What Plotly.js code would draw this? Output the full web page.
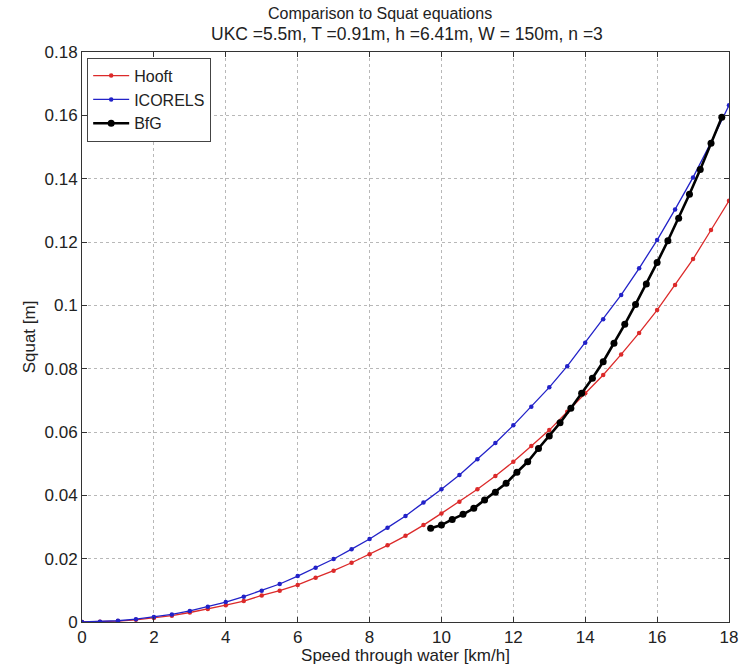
<!DOCTYPE html>
<html>
<head>
<meta charset="utf-8">
<script src="https://cdn.plot.ly/plotly-3.0.1.min.js"></script>
<style>html,body{margin:0;padding:0;background:#fff;}#chart{width:747px;height:665px;}</style>
</head>
<body>
<div id="chart"></div>
<script>
// Speeds (km/h) for Hooft and ICORELS
const speedA = [0,0.5,1,1.5,2,2.5,3,3.5,4,4.5,5,5.5,6,6.5,7,7.5,8,8.5,9,9.5,10,10.5,11,11.5,12,12.5,13,13.5,14,14.5,15,15.5,16,16.5,17,17.5,18];
const hooft = [0,0.0001,0.0003,0.0007,0.0013,0.002,0.003,0.0041,0.0053,0.0066,0.0084,0.0099,0.0117,0.014,0.0162,0.0187,0.0214,0.0242,0.0272,0.0306,0.0343,0.038,0.0419,0.0461,0.0506,0.0556,0.0606,0.0664,0.0722,0.078,0.0845,0.0913,0.0985,0.1064,0.1146,0.1238,0.133];
const icorels = [0,0.0001,0.0004,0.0009,0.0016,0.0024,0.0035,0.0048,0.0063,0.008,0.0099,0.012,0.0145,0.0171,0.0199,0.023,0.0262,0.0298,0.0335,0.0377,0.0419,0.0464,0.0514,0.0565,0.0621,0.068,0.0741,0.0808,0.0882,0.0956,0.1033,0.1117,0.1206,0.1303,0.1404,0.1515,0.1632];
// BfG
const speedB = [9.7,10.0,10.3,10.6,10.9,11.2,11.5,11.8,12.1,12.4,12.7,13.0,13.3,13.6,13.9,14.2,14.5,14.8,15.1,15.4,15.7,16.0,16.3,16.6,16.9,17.2,17.5,17.8];
const bfg = [0.0296,0.0306,0.0324,0.034,0.0359,0.0385,0.041,0.0438,0.0473,0.0506,0.0548,0.0587,0.0629,0.0675,0.0722,0.077,0.0822,0.088,0.094,0.1003,0.1067,0.1135,0.1204,0.1275,0.1351,0.1429,0.1512,0.1594];

const xTickVals = [0,2,4,6,8,10,12,14,16,18];
const xTickText = ['0','2','4','6','8','10','12','14','16','18'];
const yTickVals = [0,0.02,0.04,0.06,0.08,0.1,0.12,0.14,0.16,0.18];
const yTickText = ['0','0.02','0.04','0.06','0.08','0.1','0.12','0.14','0.16','0.18'];

const titleLine1 = 'Comparison to Squat equations';
const titleLine2 = 'UKC =5.5m, T =0.91m, h =6.41m, W = 150m, n =3';

const font = 'Liberation Sans, Arial, sans-serif';

const traces = [
  {x: speedA, y: hooft, name: 'Hooft', type: 'scatter', mode: 'lines+markers',
   line: {color: '#dc2a2a', width: 1.3}, marker: {color: '#dc2a2a', size: 4.5}},
  {x: speedA, y: icorels, name: 'ICORELS', type: 'scatter', mode: 'lines+markers',
   line: {color: '#2222c8', width: 1.3}, marker: {color: '#2222c8', size: 4.5}},
  {x: speedB, y: bfg, name: 'BfG', type: 'scatter', mode: 'lines+markers',
   line: {color: '#000000', width: 2.6}, marker: {color: '#000000', size: 7}}
];

const axisCommon = {
  showline: true, linecolor: '#333', linewidth: 1, mirror: 'ticks',
  ticks: 'inside', ticklen: 5, tickcolor: '#333',
  showgrid: true, gridcolor: '#b8b8b8', gridwidth: 1, griddash: 'dot',
  zeroline: false, tickfont: {family: font, size: 17, color: '#222'}
};

const layout = {
  width: 747, height: 665,
  margin: {l: 82, r: 18, t: 52, b: 43},
  paper_bgcolor: '#fff', plot_bgcolor: '#fff',
  font: {family: font, color: '#222'},
  showlegend: true,
  legend: {x: 0.008, y: 0.99, xanchor: 'left', yanchor: 'top',
    bgcolor: '#fff', bordercolor: '#444', borderwidth: 1,
    font: {family: font, size: 16, color: '#222'}, itemwidth: 36,
    tracegroupgap: 0},
  xaxis: Object.assign({}, axisCommon, {
    range: [0, 18], tickvals: xTickVals, ticktext: xTickText,
    title: {text: 'Speed through water [km/h]', font: {family: font, size: 17, color: '#222'}, standoff: 0}
  }),
  yaxis: Object.assign({}, axisCommon, {
    range: [0, 0.18], tickvals: yTickVals, ticktext: yTickText,
    title: {text: 'Squat [m]', font: {family: font, size: 17, color: '#222'}, standoff: 4}
  }),
  annotations: [
    {text: titleLine1, xref: 'paper', yref: 'paper', x: 0.46, y: 1, yshift: 39,
     xanchor: 'center', yanchor: 'middle', showarrow: false,
     font: {family: font, size: 16, color: '#222'}},
    {text: titleLine2, xref: 'paper', yref: 'paper', x: 0.502, y: 1, yshift: 18,
     xanchor: 'center', yanchor: 'middle', showarrow: false,
     font: {family: font, size: 17.5, color: '#222'}, borderpad: 0}
  ]
};

Plotly.newPlot('chart', traces, layout, {displayModeBar: false, staticPlot: true});
</script>
</body>
</html>
